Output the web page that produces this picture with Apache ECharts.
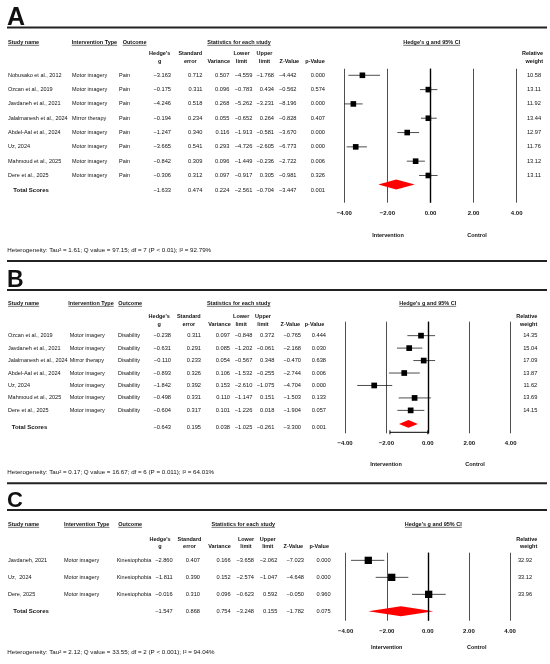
<!DOCTYPE html>
<html>
<head>
<meta charset="utf-8">
<script src="https://cdn.jsdelivr.net/npm/echarts@6/dist/echarts.min.js"></script>
<style>
  html, body { margin: 0; padding: 0; background: #fff; }
  #chart { width: 550px; height: 664px; }
</style>
</head>
<body>
<div id="chart"></div>
<script>
// ---- data: A (pain) ----
const namesA = ['Nobusako et al., 2012', 'Ozcan et al., 2019', 'Javdaneh et al., 2021', 'Jalalmanesh et al., 2024',
  'Abdel-Aal et al., 2024', 'Uz, 2024', 'Mahmoud et al., 2025', 'Dere et al., 2025'];
const typesA = ['Motor imagery', 'Motor imagery', 'Motor imagery', 'Mirror therapy', 'Motor imagery', 'Motor imagery', 'Motor imagery', 'Motor imagery'];
// g, se, variance, lower, upper, z, p
const statsA = [
  [-3.163, 0.712, 0.507, -4.559, -1.768, -4.442, 0.000],
  [-0.175, 0.311, 0.096, -0.783, 0.434, -0.562, 0.574],
  [-4.246, 0.518, 0.268, -5.262, -3.231, -8.196, 0.000],
  [-0.194, 0.234, 0.055, -0.652, 0.264, -0.828, 0.407],
  [-1.247, 0.340, 0.116, -1.913, -0.581, -3.670, 0.000],
  [-3.665, 0.541, 0.293, -4.726, -2.605, -6.773, 0.000],
  [-0.842, 0.309, 0.096, -1.449, -0.236, -2.722, 0.006],
  [-0.306, 0.312, 0.097, -0.917, 0.305, -0.981, 0.326]
];
const totalA = [-1.633, 0.474, 0.224, -2.561, -0.704, -3.447, 0.001];
const weightsA = [10.58, 13.11, 11.92, 13.44, 12.97, 11.76, 13.12, 13.11];
// marker positions as drawn in the plot: lower, g, upper
const drawnA = [[-3.81, -3.16, -2.34], [-0.49, -0.10, 0.32], [-4.00, -3.58, -3.15], [-0.44, -0.10, 0.29],
  [-1.54, -1.08, -0.53], [-3.89, -3.47, -2.95], [-1.10, -0.69, -0.26], [-0.53, -0.10, 0.33]];
const pooledA = [-2.42, -1.59, -0.73];
const hetA = 'Heterogeneity: Tau\u00b2 = 1.61; Q value = 97.15; df = 7 (P < 0.01); I\u00b2 = 92.79%';

// ---- data: B (disability) ----
const namesB = ['Ozcan et al., 2019', 'Javdaneh et al., 2021', 'Jalalmanesh et al., 2024', 'Abdel-Aal et al., 2024',
  'Uz, 2024', 'Mahmoud et al., 2025', 'Dere et al., 2025'];
const typesB = ['Motor imagery', 'Motor imagery', 'Mirror therapy', 'Motor imagery', 'Motor imagery', 'Motor imagery', 'Motor imagery'];
const statsB = [
  [-0.238, 0.311, 0.097, -0.848, 0.372, -0.765, 0.444],
  [-0.631, 0.291, 0.085, -1.202, -0.061, -2.168, 0.030],
  [-0.110, 0.233, 0.054, -0.567, 0.348, -0.470, 0.638],
  [-0.893, 0.326, 0.106, -1.532, -0.255, -2.744, 0.006],
  [-1.842, 0.392, 0.153, -2.610, -1.075, -4.704, 0.000],
  [-0.498, 0.331, 0.110, -1.147, 0.151, -1.503, 0.133],
  [-0.604, 0.317, 0.101, -1.226, 0.018, -1.904, 0.057]
];
const totalB = [-0.643, 0.195, 0.038, -1.025, -0.261, -3.300, 0.001];
const weightsB = [14.35, 15.04, 17.09, 13.87, 11.62, 13.69, 14.15];
const drawnB = [[-0.99, -0.33, 0.35], [-1.49, -0.90, -0.27], [-0.70, -0.20, 0.35], [-1.88, -1.14, -0.39],
  [-3.41, -2.59, -1.72], [-1.41, -0.64, 0.15], [-1.47, -0.83, -0.17]];
const pooledB = [-1.39, -0.94, -0.48];
const bracketB = [-1.83, 0];
const hetB = 'Heterogeneity: Tau\u00b2 = 0.17; Q value = 16.67; df = 6 (P = 0.011); I\u00b2 = 64.01%';

// ---- data: C (kinesiophobia) ----
const namesC = ['Javdaneh, 2021', 'Uz,  2024', 'Dere, 2025'];
const typesC = ['Motor imagery', 'Motor imagery', 'Motor imagery'];
const statsC = [
  [-2.860, 0.407, 0.166, -3.658, -2.062, -7.023, 0.000],
  [-1.811, 0.390, 0.152, -2.574, -1.047, -4.648, 0.000],
  [-0.016, 0.310, 0.096, -0.623, 0.592, -0.050, 0.960]
];
const totalC = [-1.547, 0.868, 0.754, -3.248, 0.155, -1.782, 0.075];
const weightsC = [32.92, 33.12, 33.96];
const drawnC = [[-3.74, -2.90, -2.12], [-2.54, -1.76, -0.95], [-0.77, 0.04, 0.87]];
const pooledC = [-2.90, -1.31, 0.27];
const hetC = 'Heterogeneity: Tau\u00b2 = 2.12; Q value = 33.55; df = 2 (P < 0.001); I\u00b2 = 94.04%';

const headRow1 = ['Study name', 'Intervention Type', 'Outcome', 'Statistics for each study', "Hedge's g and 95% CI"];
const headRow2 = ["Hedge's", 'Standard', '', 'Lower', 'Upper', '', ''];
const headRow3 = ['g', 'error', 'Variance', 'limit', 'limit', 'Z-Value', 'p-Value'];
const xTicks = [-4, -2, 0, 2, 4];

// ---- layout ----
const FONT = "'Liberation Sans', Arial, Helvetica, sans-serif";
const fnt = (s, b) => (b ? 'bold ' : '') + s + 'px ' + FONT;
const INK = '#111';

const panels = [
  { letter: 'A', names: namesA, types: typesA, outcome: 'Pain', stats: statsA, total: totalA, weights: weightsA,
    drawn: drawnA, pooled: pooledA, het: hetA,
    L: { letterY: 18, letterSize: 25, seps: [27.5], grid: { left: 344.3, right: 33.3, top: 68.7, height: 134 },
      yr: [-0.46, 8.90], totalPos: 8.06, diamondPos: 7.62, diamondH: 10, box: 5.6, margin: 7.5,
      hy: [42.3, 53.3, 61], h1x: [8, 71.7, 122.7, 239, 431.7], rel: 543, hc: [159.7, 190.3, 218.7, 241.5, 264.5, 289.3, 315],
      cx: [8, 72, 119], totalX: 13.3, vals: [171, 202.3, 229.3, 252.3, 274, 296.5, 325], weight: 534,
      interv: [388, 477], intervY: 235.3, hetY: 250 } },
  { letter: 'B', names: namesB, types: typesB, outcome: 'Disability', stats: statsB, total: totalB, weights: weightsB,
    drawn: drawnB, pooled: pooledB, bracket: bracketB, het: hetB,
    L: { letterY: 280.5, letterSize: 23, seps: [261, 290], grid: { left: 345, right: 39.3, top: 321.7, height: 111.6 },
      yr: [-1.12, 7.84], totalPos: 7.33, diamondPos: 7.09, diamondH: 7.7, box: 5.7, bracketPos: 7.76, margin: 7,
      hy: [303.3, 316, 324.3], h1x: [8, 68.3, 118.3, 238.7, 427.7], rel: 537.3, hc: [159.2, 188.8, 219.5, 241.2, 263, 290.3, 314.5],
      cx: [8, 69.7, 118], totalX: 11.7, vals: [171, 201, 230, 252.3, 274.3, 301, 326], weight: 530.3,
      interv: [386, 475], intervY: 464, hetY: 472.7 } },
  { letter: 'C', names: namesC, types: typesC, outcome: 'Kinesiophobia', stats: statsC, total: totalC, weights: weightsC,
    drawn: drawnC, pooled: pooledC, het: hetC,
    L: { letterY: 501, letterSize: 22, seps: [483.3, 510], grid: { left: 345.7, right: 40, top: 552.7, height: 68 },
      yr: [-0.45, 3.55], totalPos: 3.02, diamondPos: 3.0, diamondH: 10, box: 7.3, margin: 7.3,
      hy: [524.3, 539, 546], h1x: [8, 64, 118.3, 243.3, 433.3], rel: 537.3, hc: [160, 189.5, 219.5, 246, 267.8, 293.3, 319.2],
      cx: [8, 64, 116.7], totalX: 13.3, vals: [172.7, 200, 230.7, 254, 277.3, 304, 330.7], weight: 525,
      interv: [386.7, 476.7], intervY: 647.3, hetY: 652.7 } }
];

const measure = document.createElement('canvas').getContext('2d');
function textW(t, font) { measure.font = font; return measure.measureText(t).width; }

function T(text, x, y, font, align) {
  return { type: 'text', x: x, y: y, silent: true,
    style: { text: text, font: font, fill: INK, textAlign: align || 'left', textVerticalAlign: 'middle' } };
}
function Ln(x1, y1, x2, y2, w, c) {
  return { type: 'line', silent: true, shape: { x1: x1, y1: y1, x2: x2, y2: y2 }, style: { stroke: c || INK, lineWidth: w } };
}
function fmt(v) { return (v < 0 ? '\u2212' : '') + Math.abs(v).toFixed(3); }

// decorations and headings
const graphics = [];
panels.forEach(function (p) {
  const L = p.L;
  graphics.push(T(p.letter, 7, L.letterY, fnt(L.letterSize, true)));
  L.seps.forEach(function (y) { graphics.push(Ln(7, y, 547, y, 2, '#222')); });
  const hf = fnt(5.5, true);
  headRow1.forEach(function (t, k) {
    const center = k >= 3;
    const w = textW(t, hf);
    const x0 = center ? L.h1x[k] - w / 2 : L.h1x[k];
    graphics.push(T(t, L.h1x[k], L.hy[0], hf, center ? 'center' : 'left'));
    graphics.push(Ln(x0, L.hy[0] + 3, x0 + w, L.hy[0] + 3, 0.6));
  });
  headRow2.forEach(function (t, k) { if (t) graphics.push(T(t, L.hc[k], L.hy[1], hf, 'center')); });
  headRow3.forEach(function (t, k) { graphics.push(T(t, L.hc[k], L.hy[2], hf, 'center')); });
  graphics.push(T('Relative', L.rel, L.hy[1], hf, 'right'));
  graphics.push(T('weight', L.rel, L.hy[2], hf, 'right'));
  graphics.push(T('Intervention', L.interv[0], L.intervY, hf, 'center'));
  graphics.push(T('Control', L.interv[1], L.intervY, hf, 'center'));
  graphics.push(T(p.het, 7.3, L.hetY, fnt(6.2)));
});

function tableRender(p) {
  return function (params, api) {
    const i = params.dataIndex;
    const L = p.L;
    const y = api.coord([0, api.value(1)])[1];
    const kids = [];
    const f = fnt(5.5);
    const nf = fnt(5.7);
    if (i < p.names.length) {
      kids.push(T(p.names[i], L.cx[0], y, f));
      kids.push(T(p.types[i], L.cx[1], y, f));
      kids.push(T(p.outcome, L.cx[2], y, f));
      p.stats[i].forEach(function (v, k) { kids.push(T(fmt(v), L.vals[k], y, nf, 'right')); });
      kids.push(T(p.weights[i].toFixed(2), L.weight, y, nf, 'center'));
    } else {
      kids.push(T('Total Scores', L.totalX, y, fnt(6, true)));
      p.total.forEach(function (v, k) { kids.push(T(fmt(v), L.vals[k], y, nf, 'right')); });
    }
    return { type: 'group', children: kids };
  };
}

function forestRender(p) {
  return function (params, api) {
    const y = api.value(1);
    const a = api.coord([api.value(2), y]);
    const g = api.coord([api.value(0), y]);
    const b = api.coord([api.value(3), y]);
    const s = p.L.box;
    return { type: 'group', children: [
      { type: 'line', shape: { x1: a[0], y1: a[1], x2: b[0], y2: b[1] }, style: { stroke: '#000', lineWidth: 0.7 } },
      { type: 'rect', shape: { x: g[0] - s / 2, y: g[1] - s / 2, width: s, height: s }, style: { fill: '#000' } }
    ] };
  };
}

function diamondRender(p) {
  return function (params, api) {
    const y = api.value(1);
    const a = api.coord([api.value(2), y]);
    const m = api.coord([api.value(0), y]);
    const b = api.coord([api.value(3), y]);
    const h = p.L.diamondH / 2;
    return { type: 'polygon', shape: { points: [[a[0], a[1]], [m[0], m[1] - h], [b[0], b[1]], [m[0], m[1] + h]] },
      style: { fill: '#ff0000' } };
  };
}

function bracketRender(params, api) {
  const y = api.value(1);
  const a = api.coord([api.value(0), y]);
  const b = api.coord([api.value(2), y]);
  const st = { stroke: '#000', lineWidth: 1 };
  return { type: 'group', children: [
    { type: 'line', shape: { x1: a[0], y1: a[1], x2: b[0], y2: b[1] }, style: st },
    { type: 'line', shape: { x1: a[0], y1: a[1] - 2, x2: a[0], y2: a[1] + 2 }, style: st },
    { type: 'line', shape: { x1: b[0], y1: b[1] - 2, x2: b[0], y2: b[1] + 2 }, style: st }
  ] };
}

const grids = [], xAxes = [], yAxes = [], series = [];
panels.forEach(function (p, gi) {
  const L = p.L;
  grids.push(L.grid);
  xAxes.push({
    type: 'value', gridIndex: gi, min: xTicks[0], max: xTicks[xTicks.length - 1], interval: 2,
    axisLine: { show: false }, axisTick: { show: false },
    splitLine: { show: true, lineStyle: { color: '#222', width: 0.8 } },
    axisLabel: { margin: L.margin, fontSize: 6, fontWeight: 'bold', color: INK, fontFamily: FONT,
      formatter: function (v) { return (v < 0 ? '\u2212' : '') + Math.abs(v).toFixed(2); } }
  });
  yAxes.push({ type: 'value', gridIndex: gi, inverse: true, min: L.yr[0], max: L.yr[1], show: false });

  const rows = p.names.map(function (_, i) { return [0, i]; }).concat([[0, L.totalPos]]);
  series.push({ type: 'custom', name: 'table' + p.letter, xAxisIndex: gi, yAxisIndex: gi, silent: true,
    renderItem: tableRender(p), data: rows });
  series.push({ type: 'custom', name: 'studies' + p.letter, xAxisIndex: gi, yAxisIndex: gi, silent: true,
    renderItem: forestRender(p), data: p.drawn.map(function (d, i) { return [d[1], i, d[0], d[2]]; }),
    markLine: { silent: true, symbol: 'none', label: { show: false },
      lineStyle: { color: '#000', width: 1.4, type: 'solid' }, data: [{ xAxis: 0 }] } });
  series.push({ type: 'custom', name: 'pooled' + p.letter, xAxisIndex: gi, yAxisIndex: gi, silent: true,
    renderItem: diamondRender(p), data: [[p.pooled[1], L.diamondPos, p.pooled[0], p.pooled[2]]] });
  if (p.bracket) {
    series.push({ type: 'custom', name: 'bracket' + p.letter, xAxisIndex: gi, yAxisIndex: gi, silent: true,
      renderItem: bracketRender, data: [[p.bracket[0], L.bracketPos, p.bracket[1]]] });
  }
});

const myChart = echarts.init(document.getElementById('chart'));
myChart.setOption({
  animation: false,
  backgroundColor: '#fff',
  grid: grids,
  xAxis: xAxes,
  yAxis: yAxes,
  series: series,
  graphic: graphics
});
window.addEventListener('resize', function () { myChart.resize(); });
</script>
</body>
</html>
